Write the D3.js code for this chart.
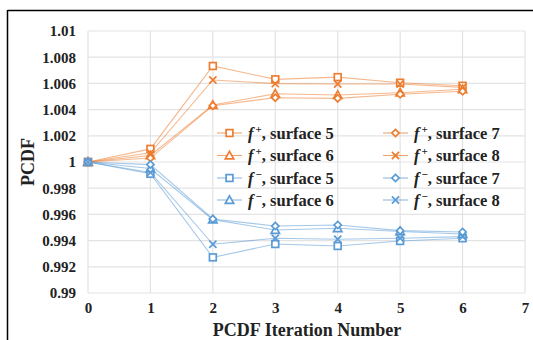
<!DOCTYPE html>
<html><head><meta charset="utf-8">
<script src="https://cdn.jsdelivr.net/npm/d3@7"></script>
<style>body{margin:0;background:#fff}svg{display:block}
text{font-family:"Liberation Serif","Times New Roman","DejaVu Serif",serif;font-weight:bold;fill:#222}</style>
</head><body>
<svg id="c" width="533" height="340"></svg>
<script>
const iterations = [0,1,2,3,4,5,6];
const xTicks = [0,1,2,3,4,5,6,7];
const yTicks = [0.99,0.992,0.994,0.996,0.998,1,1.002,1.004,1.006,1.008,1.01];
const yTickLabels = ["0.99","0.992","0.994","0.996","0.998","1","1.002","1.004","1.006","1.008","1.01"];
const fPlus5  = [1, 1.0010, 1.00733, 1.00631, 1.00648, 1.00605, 1.00582];
const fPlus6  = [1, 1.0005, 1.00435, 1.00521, 1.00511, 1.00529, 1.00555];
const fPlus7  = [1, 1.0003, 1.00430, 1.00491, 1.00486, 1.00517, 1.00540];
const fPlus8  = [1, 1.0007, 1.00626, 1.00598, 1.00595, 1.00595, 1.00570];
const fMinus5 = [1, 0.9991, 0.99272, 0.99374, 0.99359, 0.99397, 0.99418];
const fMinus6 = [1, 0.9995, 0.99560, 0.99481, 0.99494, 0.99470, 0.99450];
const fMinus7 = [1, 0.9998, 0.99565, 0.99511, 0.99519, 0.99476, 0.99466];
const fMinus8 = [1, 0.9992, 0.99372, 0.99418, 0.99410, 0.99418, 0.99430];

const orange = "#ED7D31", blue = "#5B9BD5";
const series = [
  {sign:"+", name:"surface 5", vals:fPlus5, color:orange, sym:"square"},
  {sign:"+", name:"surface 6", vals:fPlus6, color:orange, sym:"triangle"},
  {sign:"−", name:"surface 5", vals:fMinus5, color:blue, sym:"square"},
  {sign:"−", name:"surface 6", vals:fMinus6, color:blue, sym:"triangle"},
  {sign:"+", name:"surface 7", vals:fPlus7, color:orange, sym:"diamond"},
  {sign:"+", name:"surface 8", vals:fPlus8, color:orange, sym:"x"},
  {sign:"−", name:"surface 7", vals:fMinus7, color:blue, sym:"diamond"},
  {sign:"−", name:"surface 8", vals:fMinus8, color:blue, sym:"x"}
];

const svg = d3.select("#c");
const x = d3.scaleLinear().domain([0,7]).range([88,525]);
const y = d3.scaleLinear().domain([0.99,1.01]).range([293,31]);

svg.append("line").attr("x1",7.5).attr("x2",533).attr("y1",10.5).attr("y2",10.5).attr("stroke","#000").attr("stroke-width",1.5);
svg.append("line").attr("x1",7.5).attr("x2",7.5).attr("y1",10).attr("y2",340).attr("stroke","#000").attr("stroke-width",1.5);

const g = svg.append("g");
g.selectAll(".hy").data(yTicks).enter().append("line")
  .attr("x1",x(0)).attr("x2",x(7)).attr("y1",d=>y(d)).attr("y2",d=>y(d))
  .attr("stroke","#e3e3e3").attr("stroke-width",1.2);
g.selectAll(".vx").data(xTicks).enter().append("line")
  .attr("x1",d=>x(d)).attr("x2",d=>x(d)).attr("y1",y(0.99)).attr("y2",y(1.01))
  .attr("stroke","#e3e3e3").attr("stroke-width",1.2);

const yAxis = d3.axisLeft(y).tickValues(yTicks).tickFormat((d,i)=>yTickLabels[i]).tickSize(0).tickPadding(0);
const ya = svg.append("g").attr("transform","translate(76,0)").call(yAxis);
ya.select(".domain").remove();
ya.attr("font-family",null);
ya.selectAll("text").attr("font-size",15).attr("fill","#222");

const xAxis = d3.axisBottom(x).tickValues(xTicks).tickFormat(d3.format("d")).tickSize(0).tickPadding(0);
const xa = svg.append("g").attr("transform","translate(0,302)").call(xAxis);
xa.select(".domain").remove();
xa.attr("font-family",null);
xa.selectAll("text").attr("font-size",15).attr("fill","#222");

svg.append("text").attr("x",307).attr("y",336).attr("text-anchor","middle")
  .attr("font-size",18).text("PCDF Iteration Number");
svg.append("text").attr("transform","translate(34,162) rotate(-90)").attr("text-anchor","middle")
  .attr("font-size",18).text("PCDF");

function drawMarker(sel, sym, color){
  if(sym==="square"){
    sel.append("rect").attr("x",-3.4).attr("y",-3.4).attr("width",6.8).attr("height",6.8)
      .attr("fill","#fff").attr("stroke",color).attr("stroke-width",1.7);
  } else if(sym==="triangle"){
    sel.append("path").attr("d","M0,-4.2L4.2,3.3L-4.2,3.3Z").attr("fill","#fff").attr("stroke",color).attr("stroke-width",1.7);
  } else if(sym==="diamond"){
    sel.append("path").attr("d","M0,-3.6L3.6,0L0,3.6L-3.6,0Z").attr("fill","#fff").attr("stroke",color).attr("stroke-width",1.7);
  } else {
    sel.append("path").attr("d","M-3.6,-3.6L3.6,3.6M-3.6,3.6L3.6,-3.6").attr("fill","none").attr("stroke",color).attr("stroke-width",1.7);
  }
}

const line = d3.line().x((d,i)=>x(iterations[i])).y(d=>y(d));
const plot = svg.append("g");
series.forEach(s=>{
  plot.append("path").attr("d",line(s.vals)).attr("fill","none")
    .attr("stroke",s.color).attr("stroke-width",1.1).attr("stroke-opacity",0.55);
});
series.forEach(s=>{
  s.vals.forEach((v,i)=>{
    const m = plot.append("g").attr("transform",`translate(${x(iterations[i])},${y(v)})`);
    drawMarker(m, s.sym, s.color);
  });
});

const leg = svg.append("g");
const colX = [217, 383];
const rowY = [133, 155.5, 178, 200];
series.forEach((s,k)=>{
  const col = Math.floor(k/4), row = k%4;
  const lg = leg.append("g").attr("transform",`translate(${colX[col]},${rowY[row]})`);
  lg.append("line").attr("x1",0).attr("x2",25).attr("y1",0).attr("y2",0)
    .attr("stroke",s.color).attr("stroke-width",1.1).attr("stroke-opacity",0.7);
  const m = lg.append("g").attr("transform","translate(12.5,0)");
  drawMarker(m, s.sym, s.color);
  const t = lg.append("text").attr("x",31).attr("y",5.5).attr("font-size",16.5);
  t.append("tspan").attr("font-style","italic").text("f");
  t.append("tspan").attr("dx",2).attr("dy",-6).attr("font-size",11).text(s.sign);
  t.append("tspan").attr("dy",6).text(", " + s.name);
});
</script>
</body></html>
